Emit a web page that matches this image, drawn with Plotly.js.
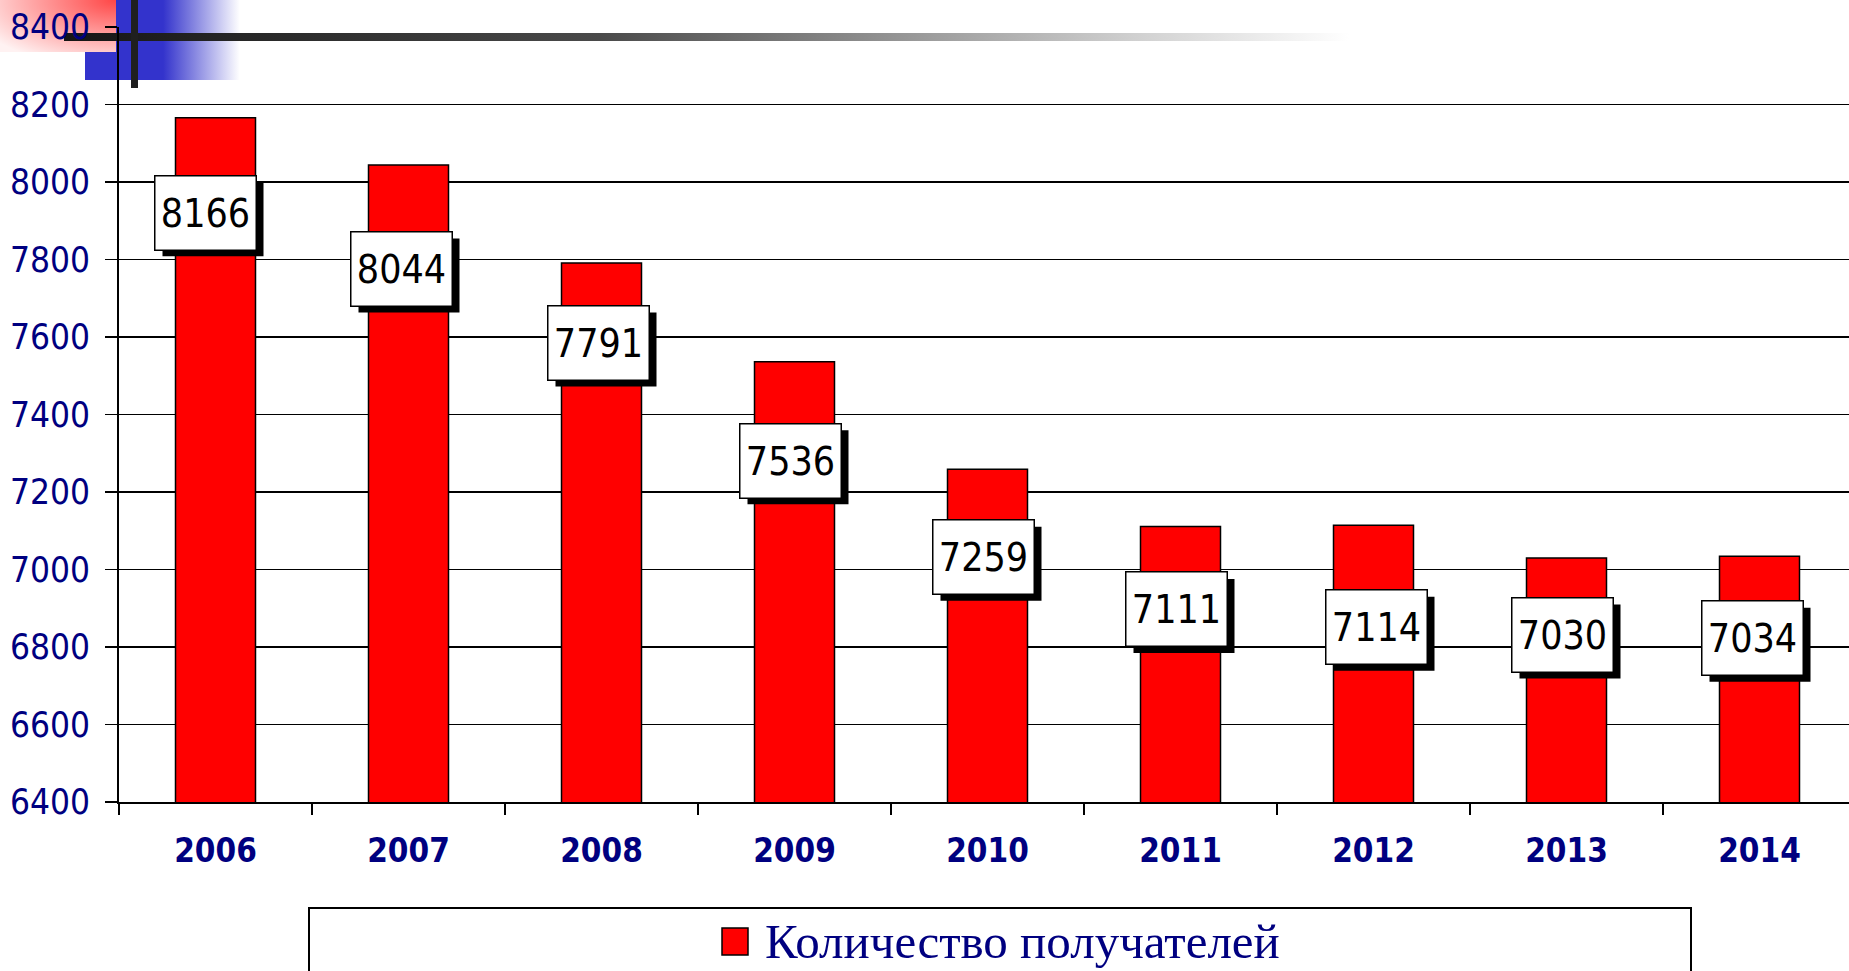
<!DOCTYPE html>
<html>
<head>
<meta charset="utf-8">
<script src="https://cdn.plot.ly/plotly-3.0.1.min.js"></script>
<style>html,body{margin:0;padding:0;background:#fff;overflow:hidden}#chart{width:1849px;height:971px}</style>
</head>
<body>
<div id="chart"></div>
<script>
// ---- data ----
const years = ['2006', '2007', '2008', '2009', '2010', '2011', '2012', '2013', '2014'];
const recipients = [8166, 8044, 7791, 7536, 7259, 7111, 7114, 7030, 7034];
const yTickValues = [6400, 6600, 6800, 7000, 7200, 7400, 7600, 7800, 8000, 8200, 8400];
const seriesName = 'Количество получателей';

// ---- label nudges (pixels, as placed in the original slide) ----
const labelDx = [-10, -7, -3, -4, -4, -4, 3, -4, -7];
const labelDy = [-95, -104, -80, -99, -88, -83, -102, -77, -82];

// ---- layout geometry (pixels) ----
const PW = 1849, PH = 971;
const M = {l: 119, r: 0, t: 27, b: 169};
const W = PW - M.l - M.r, H = PH - M.t - M.b;
const catPx = 193;
const px2x = px => (px - M.l) / W;
const px2y = py => (PH - M.b - py) / H;
const BOX_W = 100, BOX_H = 73, SH_DX = 7, SH_DY = 6;

const NAVY = '#000080';
const SANS = 'DejaVu Sans Condensed, DejaVu Sans, sans-serif';

// decorative slide elements (top-left)
const svg = `<svg xmlns="http://www.w3.org/2000/svg" width="${PW}" height="${PH}" viewBox="0 0 ${PW} ${PH}">
<defs>
<radialGradient id="pk" cx="1" cy="0" r="1.3"><stop offset="0" stop-color="#ff4646"/><stop offset="1" stop-color="#fff2f2"/></radialGradient>
<linearGradient id="bl" x1="0" x2="1" y1="0" y2="0"><stop offset="0" stop-color="#3333cc"/><stop offset="0.38" stop-color="#3333cc"/><stop offset="1" stop-color="#ffffff"/></linearGradient>
<linearGradient id="ln" gradientUnits="userSpaceOnUse" x1="64" x2="${PW}" y1="0" y2="0"><stop offset="0" stop-color="#151515"/><stop offset="0.3" stop-color="#4a4a4a"/><stop offset="0.6" stop-color="#d0d0d0"/><stop offset="0.72" stop-color="#ffffff"/></linearGradient>
</defs>
<rect x="0" y="0" width="116" height="52" fill="url(#pk)"/>
<rect x="116" y="0" width="124" height="80" fill="url(#bl)"/>
<rect x="85" y="52" width="32" height="28" fill="#3333cc"/>
<rect x="64" y="33" width="${PW - 64}" height="8" fill="url(#ln)"/>
<rect x="131" y="0" width="7" height="88" fill="#1f1f1f"/>
</svg>`;
const svgUri = 'data:image/svg+xml;charset=utf-8,' + encodeURIComponent(svg);

const trace = {
  type: 'bar',
  x: years,
  y: recipients,
  name: seriesName,
  width: 80 / catPx,
  marker: {color: '#ff0000', line: {color: '#000000', width: 1.5}},
  hoverinfo: 'x+y',
  showlegend: false
};

const annotations = [];
const shapes = [];
recipients.forEach((val, i) => {
  const dx = labelDx[i], dy = labelDy[i];
  // drop shadow of the label box
  shapes.push({
    type: 'rect', layer: 'above',
    xref: 'x', yref: 'y', xsizemode: 'pixel', ysizemode: 'pixel',
    xanchor: i, yanchor: val,
    x0: dx - BOX_W / 2 + SH_DX, x1: dx + BOX_W / 2 + SH_DX + 1,
    y0: dy - BOX_H / 2 - SH_DY - 1, y1: dy + BOX_H / 2 - SH_DY,
    fillcolor: '#000000', line: {width: 0}
  });
  annotations.push({
    x: i, y: val, xref: 'x', yref: 'y',
    text: String(val), showarrow: false,
    xanchor: 'center', yanchor: 'middle',
    xshift: dx, yshift: dy,
    width: BOX_W, height: BOX_H, borderpad: 0, borderwidth: 1.5,
    bgcolor: '#ffffff', bordercolor: '#000000',
    font: {family: SANS, size: 39, color: '#000000'}
  });
});
// legend (drawn as in the slide)
annotations.push({
  xref: 'paper', yref: 'paper', x: px2x(763), y: px2y(941),
  xanchor: 'left', yanchor: 'middle', showarrow: false,
  text: seriesName,
  font: {family: 'Liberation Serif, Times New Roman, serif', size: 49, color: NAVY}
});
shapes.push(
  {type: 'rect', xref: 'paper', yref: 'paper', x0: px2x(309), x1: px2x(1691), y0: px2y(1010), y1: px2y(908),
   line: {color: '#000000', width: 2}, fillcolor: 'rgba(0,0,0,0)'},
  {type: 'rect', xref: 'paper', yref: 'paper', x0: px2x(722), x1: px2x(748), y0: px2y(955), y1: px2y(928),
   line: {color: '#000000', width: 1.5}, fillcolor: '#ff0000'}
);

const layout = {
  width: PW, height: PH, autosize: false,
  margin: {l: M.l, r: M.r, t: M.t, b: M.b, pad: 0},
  paper_bgcolor: '#ffffff',
  plot_bgcolor: 'rgba(0,0,0,0)',
  showlegend: false,
  xaxis: {
    type: 'category',
    range: [-0.5, -0.5 + W / catPx],
    showgrid: false,
    showline: true, linecolor: '#000000', linewidth: 2,
    ticks: 'outside', tickson: 'boundaries', ticklen: 11, tickwidth: 1.5, tickcolor: '#000000',
    tickfont: {family: SANS, size: 33, color: NAVY, weight: 'bold'},
    ticklabelstandoff: 18,
    fixedrange: true, zeroline: false
  },
  yaxis: {
    range: [6400, 8400],
    tickmode: 'array', tickvals: yTickValues, ticktext: yTickValues.map(String),
    showgrid: true, gridcolor: '#000000', gridwidth: 1.5,
    showline: true, linecolor: '#000000', linewidth: 2,
    ticks: 'outside', ticklen: 12, tickwidth: 1.5, tickcolor: '#000000',
    tickfont: {family: SANS, size: 35, color: NAVY},
    ticklabelstandoff: 8,
    zeroline: false, fixedrange: true
  },
  images: [{
    source: svgUri, xref: 'paper', yref: 'paper',
    x: -M.l / W, y: 1 + M.t / H, sizex: PW / W, sizey: PH / H,
    xanchor: 'left', yanchor: 'top', sizing: 'stretch', layer: 'below'
  }],
  annotations: annotations,
  shapes: shapes
};

Plotly.newPlot('chart', [trace], layout, {displayModeBar: false, staticPlot: true});
</script>
</body>
</html>
